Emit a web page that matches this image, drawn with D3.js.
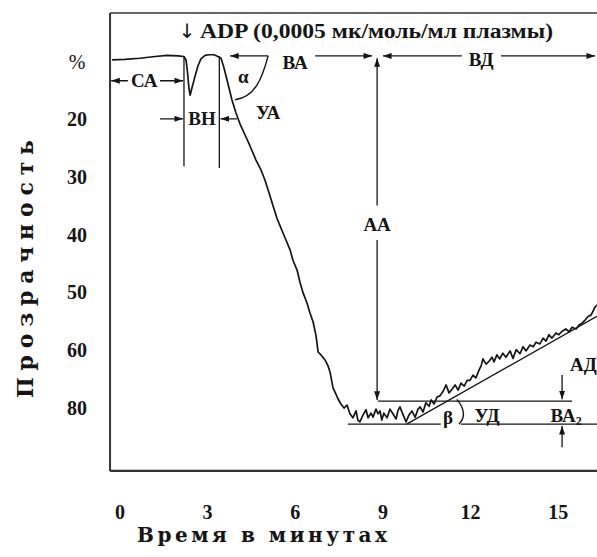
<!DOCTYPE html>
<html><head><meta charset="utf-8">
<script src="https://cdn.jsdelivr.net/npm/d3@7"></script>
<style>
body{margin:0;background:#fff}
svg{display:block;background:#fff}
text{font-family:"Liberation Serif","Times New Roman",serif;font-weight:bold;fill:#151515}
</style>
</head><body><svg id="c" width="597" height="557"></svg>
<script>
// ---- data ----
const timeMin = [-0.25,0.19,0.70,1.22,1.63,2.01,2.21,2.28,2.33,2.38,2.42,2.48,2.59,2.69,2.79,2.93,3.07,3.24,3.37,3.48,
3.58,3.72,3.85,3.99,4.13,4.30,4.47,4.67,4.85,4.98,5.12,5.26,5.39,5.56,5.70,5.84,5.94,6.08,6.18,6.29,6.42,6.52,6.63,6.73,
6.80,6.90,7.04,7.14,7.21,7.31,7.41,7.48,7.58,7.69,7.79,7.89,7.99,8.10,8.16,8.23,8.34,8.44,8.51,8.61,8.68,8.78,8.85,8.92,
8.98,9.05,9.16,9.26,9.36,9.47,9.53,9.60,9.71,9.81,9.91,10.01,10.12,10.22,10.29,10.39,10.49,10.60,10.67,10.77,10.87,10.97,
11.08,11.18,11.28,11.39,11.49,11.59,11.69,11.80,11.90,12.00,12.10,12.20,12.31,12.38,12.44,12.55,12.65,12.75,12.82,12.92,
13.02,13.12,13.23,13.37,13.47,13.58,13.71,13.81,13.92,14.05,14.16,14.26,14.39,14.50,14.60,14.70,14.80,14.94,15.04,15.15,
15.28,15.39,15.49,15.63,15.73,15.83,15.93,16.03,16.14,16.21,16.28,16.38];
const transparency = [9.7,9.6,9.4,9.1,8.9,9.0,9.1,9.7,11.8,14.6,15.8,14.6,12.5,10.7,9.5,8.9,8.8,8.8,9.1,9.4,
11.1,13.9,16.6,18.9,20.8,22.7,24.6,27.0,28.8,30.5,32.7,35.0,37.1,39.2,40.9,42.6,44.4,46.1,48.2,50.1,51.8,53.5,55.1,57.5,
60.3,60.8,61.7,62.7,63.8,66.5,67.6,68.4,69.3,70.0,69.5,71.0,71.7,70.5,72.1,72.4,71.2,70.3,71.7,70.9,71.6,70.2,71.0,70.5,
72.1,70.9,71.7,70.2,71.0,71.9,70.5,69.8,71.2,72.4,71.2,70.5,71.6,70.2,69.8,70.7,69.1,69.7,68.6,69.3,68.1,67.9,
67.1,66.0,67.4,66.7,66.0,66.9,65.7,66.2,65.2,65.2,64.3,64.8,63.4,62.7,61.5,62.4,61.9,61.2,62.0,60.8,
61.5,60.5,61.2,60.1,61.4,59.9,60.6,59.4,60.1,59.1,59.4,58.6,58.9,57.9,58.4,57.3,57.9,57.0,57.3,56.7,
56.3,56.8,56.0,56.3,55.6,55.3,54.8,54.2,53.9,53.2,52.5,52.0];
const xTickValues = [0,3,6,9,12,15];
const xTickLabels = ["0","3","6","9","12","15"];
const yTickValues = [10,20,30,40,50,60,70];
const yTickLabels = ["%","20","30","40","50","60","80"];
const titleText = "ADP (0,0005 мк/моль/мл плазмы)";
const xTitle = "Время в минутах";
const yTitle = "Прозрачность";

// ---- scales ----
const svg = d3.select("#c");
const x = d3.scaleLinear().domain([0,15]).range([119.4,557.7]);
const y = d3.scaleLinear().domain([10,70]).range([61.7,408]);
const frame = {t0:-0.32, t1:17.5, v0:1.56, v1:80.9};

const defs = svg.append("defs");
defs.append("marker").attr("id","ah").attr("viewBox","0 0 10 7")
  .attr("refX",10).attr("refY",3.5).attr("markerWidth",9).attr("markerHeight",6)
  .attr("markerUnits","userSpaceOnUse").attr("orient","auto")
  .append("path").attr("d","M0,0L10,3.5L0,7Z").attr("fill","#151515");
defs.append("clipPath").attr("id","clip").append("rect")
  .attr("x",x(frame.t0)).attr("y",y(frame.v0))
  .attr("width",x(frame.t1)-x(frame.t0)).attr("height",y(frame.v1)-y(frame.v0));

// frame
svg.append("line").attr("x1",x(frame.t0)).attr("x2",x(frame.t1)).attr("y1",y(frame.v0)).attr("y2",y(frame.v0))
  .attr("stroke","#333").attr("stroke-width",1.6);
svg.append("line").attr("x1",x(frame.t0)).attr("x2",x(frame.t1)).attr("y1",y(frame.v1)).attr("y2",y(frame.v1))
  .attr("stroke","#333").attr("stroke-width",2.2);
svg.append("line").attr("x1",x(frame.t0)).attr("x2",x(frame.t0)).attr("y1",y(frame.v0)).attr("y2",y(frame.v1))
  .attr("stroke","#333").attr("stroke-width",2);

// axes (labels only)
const xAxis = svg.append("g").attr("transform",`translate(0,${y(frame.v1)})`)
  .call(d3.axisBottom(x).tickValues(xTickValues).tickFormat((d,i)=>xTickLabels[i]).tickSize(0).tickPadding(34));
xAxis.select(".domain").remove();
xAxis.selectAll("text").attr("font-size",20).style("font-family",'"Liberation Serif",serif').style("font-weight","bold").attr("fill","#151515");

const yAxis = svg.append("g").attr("transform",`translate(${x(frame.t0)},0)`)
  .call(d3.axisLeft(y).tickValues(yTickValues).tickFormat((d,i)=>yTickLabels[i]).tickSize(0));
yAxis.select(".domain").remove();
yAxis.selectAll("text").attr("x",-33).attr("text-anchor","middle").attr("font-size",20)
  .style("font-family",'"Liberation Serif",serif').style("font-weight",(d,i)=>i===0?"normal":"bold").attr("fill","#151515");

// axis titles
svg.append("text").attr("x",137).attr("y",542).style("font-size","20px")
  .style("font-family","'DejaVu Serif',serif")
  .attr("textLength",250).attr("lengthAdjust","spacing").text(xTitle);
svg.append("text").attr("transform","translate(33,398) rotate(-90)").style("font-size","22px")
  .style("font-family","'DejaVu Serif',serif")
  .attr("textLength",258).attr("lengthAdjust","spacing").text(yTitle);

// title
svg.append("text").attr("x",x(2.32)).attr("y",38).attr("text-anchor","middle").attr("font-size",20)
  .style("font-family","'DejaVu Sans',sans-serif").style("font-weight","normal").text("↓");
svg.append("text").attr("x",200).attr("y",38).attr("font-size",20)
  .attr("textLength",353).attr("lengthAdjust","spacingAndGlyphs").text(titleText);

// trace
const pts = timeMin.map((t,i)=>[t,transparency[i]]);
svg.append("path").datum(pts).attr("clip-path","url(#clip)")
  .attr("d",d3.line().x(d=>x(d[0])).y(d=>y(d[1])))
  .attr("fill","none").attr("stroke","#151515").attr("stroke-width",1.7).attr("stroke-linejoin","round");

// annotation segments
const segs = [
 [0.29,13.3,-0.28,13.3,1],[1.39,13.3,2.18,13.3,1],
 [2.21,9.1,2.21,28.1,0],[3.42,9.0,3.42,28.4,0],
 [1.39,19.9,2.18,19.9,1],[4.02,19.9,3.46,19.9,1],
 [5.09,9.0,3.79,9.0,1],[6.70,9.0,8.65,9.0,1],
 [8.82,34.9,8.82,9.4,1],[8.82,40.9,8.82,68.6,1],
 [11.72,9.0,9.02,9.0,1],[13.06,9.0,16.28,9.0,1],
 [8.85,68.8,15.49,68.8,0],
 [7.82,72.8,11.0,72.8,0],[11.69,72.8,17.0,72.8,0],
 [9.83,72.8,16.34,54.1,0],
 [15.15,64.3,15.15,68.5,1],[15.15,76.8,15.15,73.1,1]
];
svg.append("g").attr("clip-path","url(#clip)").selectAll("line").data(segs).join("line")
  .attr("x1",d=>x(d[0])).attr("y1",d=>y(d[1])).attr("x2",d=>x(d[2])).attr("y2",d=>y(d[3]))
  .attr("stroke","#151515").attr("stroke-width",1.3)
  .attr("marker-end",d=>d[4]?"url(#ah)":null);

// alpha arc and beta arc
const p = d3.path();
p.moveTo(x(5.09),y(9.0));
p.bezierCurveTo(x(4.88),y(13.0),x(4.64),y(16.1),x(3.96),y(16.6));
p.moveTo(x(11.55),y(68.5));
p.quadraticCurveTo(x(11.96),y(71.0),x(11.62),y(72.8));
svg.append("path").attr("d",p.toString()).attr("fill","none").attr("stroke","#151515").attr("stroke-width",1.4);

// labels
const labels = [
 ["СА",0.85,13.3,"middle"],["ВН",2.83,19.9,"middle"],["α",4.24,12.5,"middle"],["УА",5.09,18.7,"middle"],
 ["ВА",6.01,10.1,"middle"],["АА",8.82,38.1,"middle"],["ВД",12.38,9.6,"middle"],["β",11.25,71.6,"middle"],
 ["УД",12.58,71.2,"middle"],["АД",16.34,62.5,"end"]
];
svg.selectAll("text.lab").data(labels).join("text").attr("class","lab")
  .attr("x",d=>x(d[1])).attr("y",d=>y(d[2])).attr("dy","0.35em").attr("text-anchor",d=>d[3])
  .attr("font-size",19).text(d=>d[0]);
const ba2 = svg.append("text").attr("x",x(15.29)).attr("y",y(71.2)).attr("dy","0.35em")
  .attr("text-anchor","middle").attr("font-size",19);
ba2.append("tspan").text("ВА");
ba2.append("tspan").attr("font-size",12).attr("dy","0.3em").text("2");
</script></body></html>
